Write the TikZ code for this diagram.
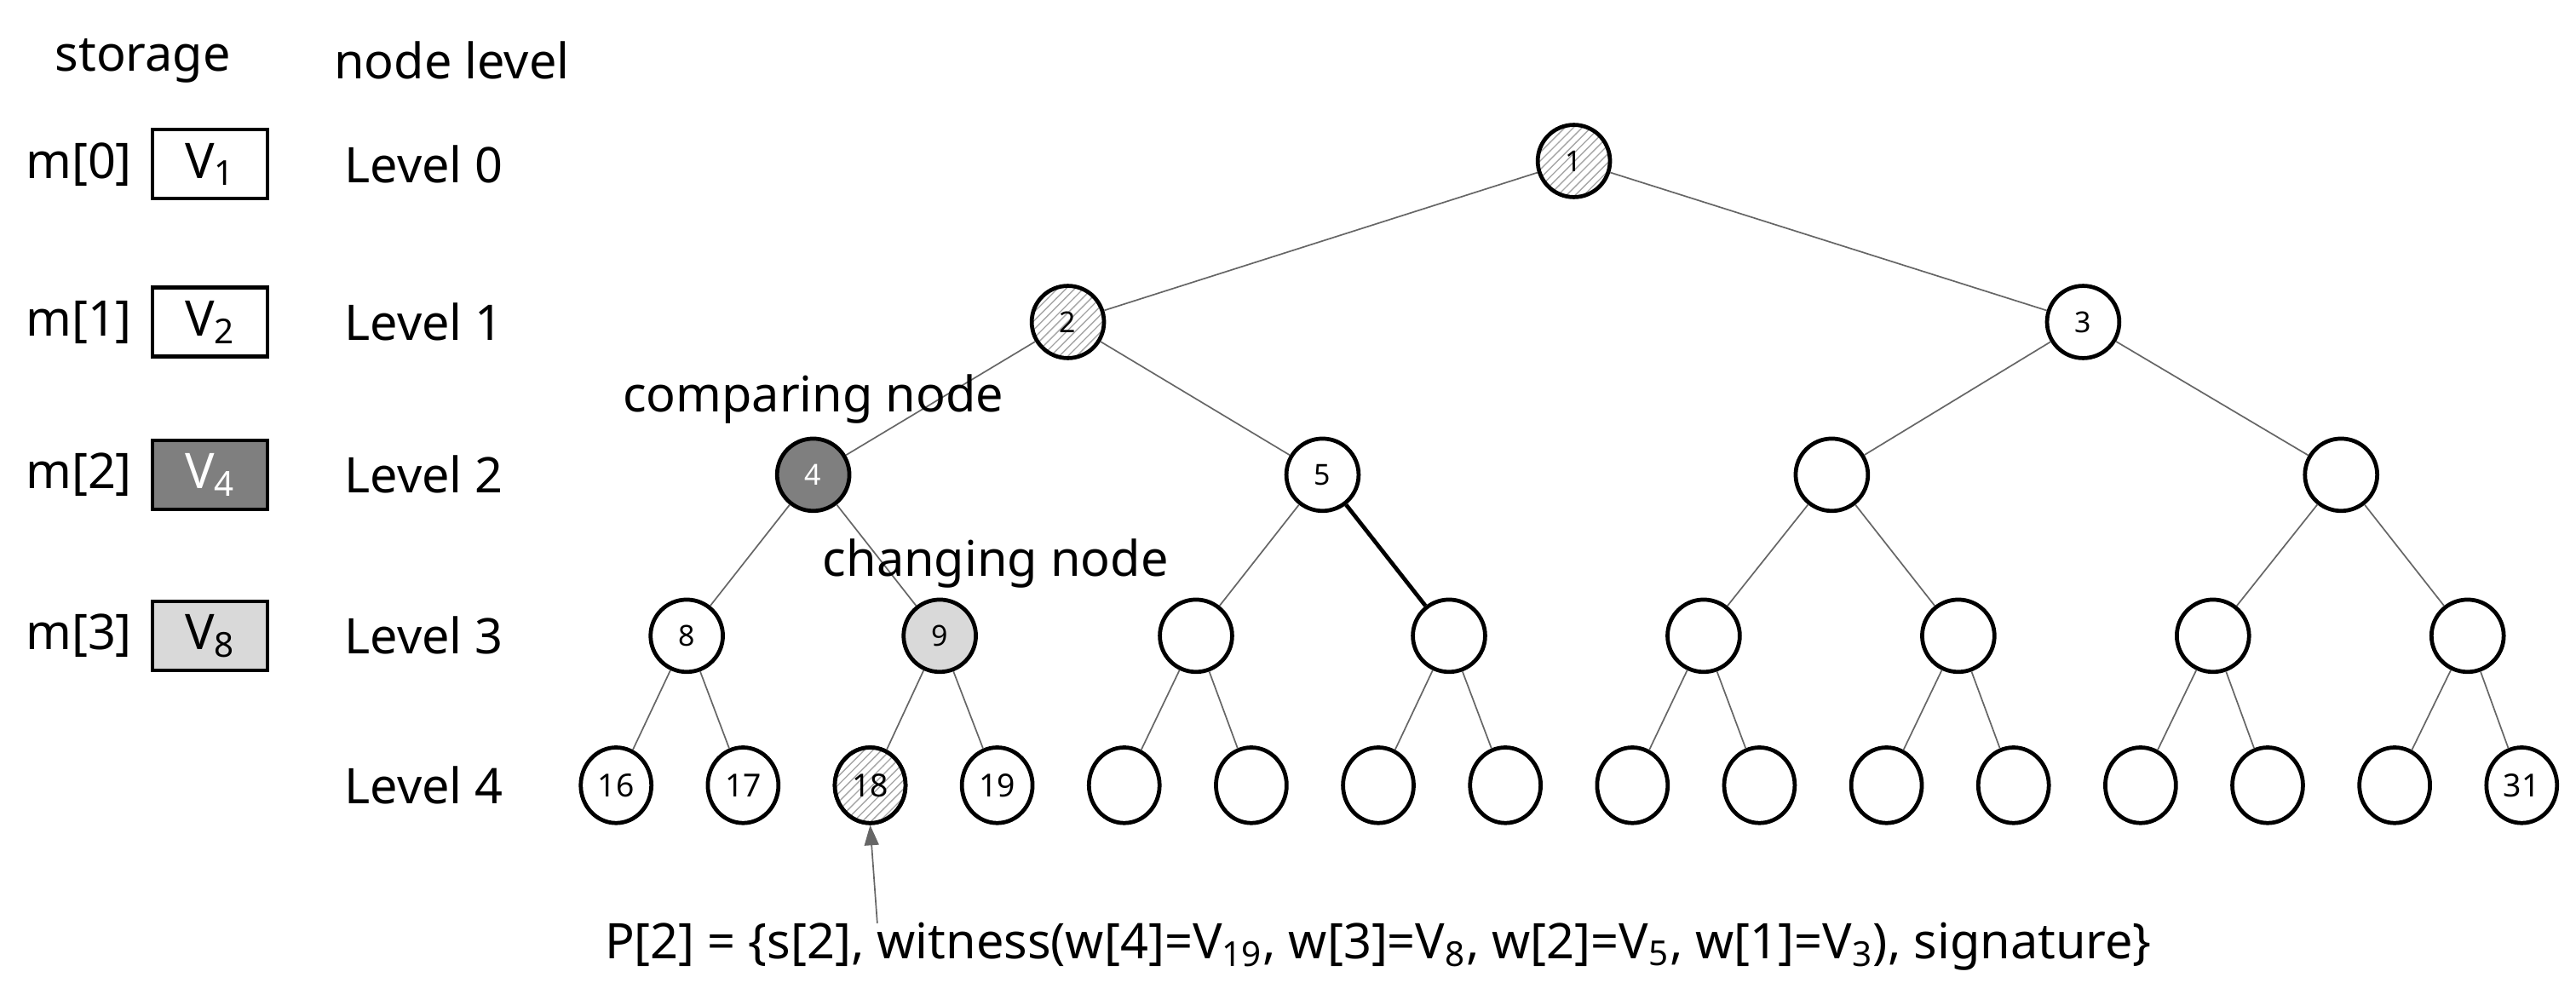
\documentclass[tikz,border=0pt]{standalone}
\usepackage{fontspec}
\setmainfont{Noto Sans}
\usetikzlibrary{patterns,arrows.meta,shapes.geometric}
\definecolor{dk}{HTML}{7F7F7F}
\definecolor{lt}{HTML}{D9D9D9}
\begin{document}
\begin{tikzpicture}[x=0.02cm,y=-0.02cm,
  nd/.style={circle,draw,line width=1.4pt,minimum size=0.88cm,inner sep=0pt,font=\fontsize{10}{12}\selectfont},
  lf/.style={ellipse,draw,line width=1.4pt,minimum width=0.86cm,minimum height=0.92cm,inner sep=0pt,font=\fontsize{11}{12}\selectfont},
  hat/.style={preaction={fill=white},pattern=north east lines,pattern color=gray!70,font=\fontsize{10}{12}\selectfont\bfseries},
  ed/.style={draw=gray!80!black,line width=0.5pt},
  lbl/.style={font=\fontsize{17}{20}\selectfont},
  box/.style={draw,line width=1.2pt,minimum width=1.4cm,minimum height=0.84cm,inner sep=0pt,font=\fontsize{17}{20}\selectfont}]
\useasboundingbox (0,0) rectangle (1568,598);
% headers
\node[lbl] (hs) at (87,37) {storage};
\node[lbl] (hl) at (275,37) {node level};
% storage
\foreach \i/\y in {0/100,1/196,2/289,3/387}{
  \node[lbl] (m\i) at (48,\y) {m[\i]};
  \node[lbl] (L\i) at (258,\y) {Level \i};
}
\node[lbl] (L4) at (258,478) {Level 4};
\node[box] (b0) at (128,100) {V\textsubscript{1}};
\node[box] (b1) at (128,196) {V\textsubscript{2}};
\node[box,fill=dk,text=white,font=\fontsize{17}{20}\selectfont\bfseries] (b2) at (128,289) {V\textsubscript{4}};
\node[box,fill=lt,font=\fontsize{17}{20}\selectfont\bfseries] (b3) at (128,387) {V\textsubscript{8}};
% tree
\node[nd,hat] (n1) at (958,98) {1};
\node[nd,hat] (n2) at (650,196) {2};
\node[nd] (n3) at (1268,196) {3};
\node[nd,fill=dk,text=white,font=\fontsize{10}{12}\selectfont\bfseries] (n4) at (495,289) {4};
\node[nd] (n5) at (805,289) {5};
\node[nd] (n6) at (1115,289) {};
\node[nd] (n7) at (1425,289) {};
\node[nd] (n8) at (418,387) {8};
\node[nd,fill=lt,font=\fontsize{10}{12}\selectfont\bfseries] (n9) at (572,387) {9};
\foreach \k/\x in {10/728,11/882,12/1037,13/1192,14/1347,15/1502}{
  \node[nd] (n\k) at (\x,387) {};
}
\foreach \k in {16,...,31}{
  \pgfmathsetmacro{\xx}{375+77.33*(\k-16)}
  \node[lf] (n\k) at (\xx,478) {};
}
\node[font=\fontsize{11}{12}\selectfont] at (n16) {16};
\node[font=\fontsize{11}{12}\selectfont] at (n17) {17};
\node[font=\fontsize{11}{12}\selectfont] at (n19) {19};
\node[font=\fontsize{11}{12}\selectfont] at (n31) {31};
\path[hat] (n18.center) ellipse [x radius=0.43cm,y radius=0.46cm];
\node[lf,font=\fontsize{11}{12}\selectfont\bfseries] at (n18) {18};
% edges
\foreach \p in {1,...,15}{
  \pgfmathtruncatemacro{\a}{2*\p}
  \pgfmathtruncatemacro{\b}{2*\p+1}
  \ifnum\p=5
    \draw[ed] (n\p) -- (n\a);
    \draw[line width=1.4pt] (n\p) -- (n\b);
  \else
    \draw[ed] (n\p) -- (n\a);
    \draw[ed] (n\p) -- (n\b);
  \fi
}
% labels
\node[lbl] (cmp) at (495,243) {comparing node};
\node[lbl] (chg) at (606,343) {changing node};
\node[lbl,anchor=west] (pt) at (362,576) {P[2] = \{s[2], witness(w[4]=V\textsubscript{19}, w[3]=V\textsubscript{8}, w[2]=V\textsubscript{5}, w[1]=V\textsubscript{3}), signature\}};
\coordinate (ps) at (534,562);
\draw[ed,-{Triangle[length=7pt,width=5pt]}] (ps) -- (n18.south);
\end{tikzpicture}
\end{document}
